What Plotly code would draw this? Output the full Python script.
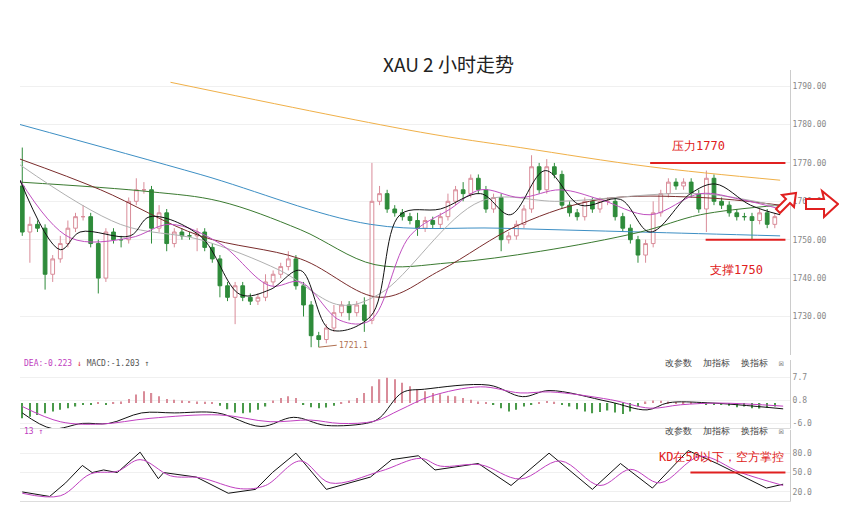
import plotly.graph_objects as go
from plotly.subplots import make_subplots

# candles (bar index 0..99)
closes = [1752, 1754, 1753, 1741, 1745, 1749, 1753, 1756, 1756, 1749,
          1740, 1752, 1750, 1750, 1760, 1763, 1763, 1753, 1757, 1749,
          1752, 1751, 1751, 1752, 1748, 1745, 1738, 1735, 1738, 1735,
          1734, 1735, 1739, 1741, 1743, 1745, 1738, 1733, 1725, 1724,
          1727, 1731, 1733, 1731, 1733, 1729, 1760, 1762, 1758, 1757,
          1756, 1755, 1753, 1755, 1754, 1756, 1760, 1763, 1762, 1766,
          1763, 1758, 1761, 1750, 1751, 1754, 1758, 1769, 1763, 1769,
          1767, 1759, 1757, 1756, 1760, 1758, 1760, 1760, 1756, 1753,
          1750, 1746, 1749, 1757, 1762, 1765, 1764, 1765, 1762, 1758,
          1766, 1760, 1759, 1757, 1756, 1756, 1755, 1757, 1754, 1756]
first_open = 1764
up_wick = [10, 2, 1, 1, 1, 2, 2, 1, 3, 1, 1, 1, 1, 1, 1, 3, 2, 1, 2, 1,
           1, 1, 1, 1, 1, 1, 1, 1, 1, 1, 1, 1, 2, 1, 1, 2, 1, 1, 1, 1,
           1, 2, 1, 1, 1, 2, 10, 2, 1, 1, 1, 1, 2, 1, 1, 1, 2, 1, 2, 1,
           1, 1, 1, 1, 1, 1, 1, 3, 1, 2, 1, 1, 1, 1, 1, 1, 1, 1, 1, 1,
           1, 1, 1, 3, 1, 1, 1, 1, 1, 1, 2, 1, 1, 1, 1, 1, 1, 1, 1, 1]
dn_wick = [1, 8, 1, 4, 2, 1, 1, 1, 1, 1, 4, 1, 1, 2, 1, 1, 1, 4, 1, 2,
           1, 1, 1, 4, 1, 1, 3, 1, 7, 1, 1, 1, 1, 1, 1, 1, 1, 3, 3, 2,
           1, 1, 1, 2, 1, 3, 1, 1, 1, 1, 1, 1, 2, 1, 1, 1, 1, 1, 2, 1,
           1, 1, 1, 3, 1, 1, 1, 1, 1, 1, 1, 1, 1, 1, 1, 1, 1, 1, 1, 1,
           1, 2, 2, 1, 1, 1, 1, 1, 1, 1, 6, 1, 1, 1, 1, 1, 5, 1, 1, 1]

# moving averages (x in bar index)
ma_yellow_x = [19.5, 52.4, 65.5, 82.6, 99.7]
ma_yellow_y = [1791, 1778, 1774, 1769, 1765.5]
ma_blue_x = [-0.3, 23.4, 45.8, 62.9, 81.3, 99.7]
ma_blue_y = [1780, 1767, 1754, 1753, 1752, 1751]
ma_green_x = [-0.3, 16.8, 26, 36.6, 46.4, 56.3, 68.2, 81.3, 89.2, 99.7]
ma_green_y = [1765, 1762.5, 1760, 1752.6, 1743.5, 1744, 1747, 1752, 1756.5, 1759]
ma_dred_x = [-0.3, 10.3, 23.4, 36.6, 47.1, 55, 65.5, 76, 89.2, 99.7]
ma_dred_y = [1771, 1763, 1751, 1745, 1735, 1742, 1754, 1760.5, 1761, 1759]
ma_gray_x = [-0.3, 12.9, 23.4, 33.9, 41.8, 47.1, 60.3, 70.8, 89.2, 99.7]
ma_gray_y = [1769.5, 1754, 1750, 1742, 1733, 1736, 1760, 1760, 1762, 1758.6]
ma_mag_x = [-0.3, 6.3, 14.2, 19.5, 26, 32.6, 36.6, 41.8, 45.8, 51, 56.3, 60.3,
            65.5, 70.8, 76, 82.6, 89.2, 94.5, 99.7]
ma_mag_y = [1765.5, 1750.5, 1750.5, 1754, 1749, 1738, 1739, 1729, 1729, 1751, 1758, 1763,
            1761, 1763, 1760.5, 1756.5, 1762, 1760.5, 1758]
ma_blk_x = [-0.3, 5, 7.6, 14.2, 16.8, 23.4, 28.7, 32.6, 36.6, 40.5, 45.8, 49.7,
            55, 60.3, 64.2, 68.8, 73.4, 78.7, 82.6, 87.9, 91.2, 95.8, 99.7]
ma_blk_y = [1765.5, 1747.4, 1752, 1751, 1756, 1751, 1735.7, 1737, 1742, 1726.6, 1730, 1756.5,
            1758, 1762, 1756.5, 1768, 1759, 1760.5, 1752, 1762, 1764.5, 1759, 1756.5]

# MACD
dif_x = [0, 3.9, 7.9, 11.4, 15.7, 20, 25.7, 31.4, 35.7, 40, 45.8, 47.1, 50, 52.9,
         61.4, 65.8, 69.3, 77.2, 82.2, 85, 90.1, 100.1]
dif_y = [-2.9, -7.5, -6.0, -6.0, -2.9, -2.9, -2.9, -6.9, -4.2, -6.6, -5.7, -4.2, 3.1, 4.1,
         5.3, 1.9, 3.7, 0.4, -2.0, 0.1, 0.1, -1.7]
dea_x = [0, 5, 10.3, 16.8, 26, 32.6, 37.9, 41.8, 46.4, 49.7, 53.7, 60.3, 65.5, 69.5,
         77.4, 82.6, 86.6, 91.8, 100.1]
dea_y = [-1.0, -5.5, -6.2, -4.5, -3.5, -5.5, -5.0, -6.0, -5.3, -2.0, 2.0, 4.8, 3.0, 3.3,
         1.0, -1.5, -0.5, 0.0, -0.9]
hist = [-4.5, -4.0, -3.5, -3.0, -2.5, -2.0, -1.5, -1.0, -0.5, -0.3, 0.2, -0.3, 0.3, 0.5,
        1.2, 2.5, 3.5, 3.0, 2.0, 1.2, 1.0, 0.8, 0.6, 0.5, 0.4, 0.3, -0.8, -1.8, -2.8, -3.0,
        -2.8, -2.0, -1.0, 0.8, 1.5, 2.0, 1.5, -0.5, -1.2, -1.5, -1.3, -0.8, 0.3, 0.8, 1.5,
        3.0, 5.0, 7.0, 7.5, 7.0, 6.0, 5.0, 4.0, 3.5, 3.0, 2.6, 2.2, 2.0, 1.5, 1.0,
        0.5, 0.2, -0.5, -1.5, -2.5, -2.0, -1.0, -0.3, 0.3, 0.6, 0.4, -0.3, -1.0, -1.8, -2.5,
        -3.0, -2.6, -2.2, -2.8, -3.2, -2.5, -1.0, 0.5, 0.8, 0.7, 0.5, 0.3, 0.2, 0.3, -0.2,
        -0.4, -0.6, -0.5, -0.8, -1.2, -1.0, -1.5, -1.6, -1.4, -1.0]

# KD
k_x = [0, 3.6, 5.7, 7.9, 9.2, 10.7, 12.5, 15.5, 17.9, 18.6, 22.9, 27.1, 30.7, 32.9,
       36, 40, 45.8, 48.6, 52.1, 54.3, 60, 64.3, 69.3, 75, 78.7, 82.9, 87.6, 91.4, 97.9, 100.1]
k_y = [20, 13, 34, 61, 50, 54, 50, 81.5, 40.5, 50, 43, 18, 24, 50,
       80, 24, 43, 70, 76, 54, 64, 30, 80, 24, 64, 26, 84, 64, 26, 32]
d_x = [0, 5, 9, 12.5, 15.5, 19.5, 23.4, 28.7, 32, 36.6, 40.5, 47.1, 52.4, 55, 60.3,
       65.5, 70.8, 76, 80, 83.9, 89.2, 94.5, 100.1]
d_y = [18, 14, 48, 52, 70, 45, 42, 25, 30, 68, 34, 52, 72, 60, 62,
       40, 68, 30, 55, 34, 75, 50, 30]

price_ticks = [1730, 1740, 1750, 1760, 1770, 1780, 1790]
macd_ticks = [7.7, 0.8, -6.0]
kd_ticks = [80, 50, 20]

opens = [first_open] + closes[:-1]
highs = [max(o, c) + u for o, c, u in zip(opens, closes, up_wick)]
lows = [min(o, c) - d for o, c, d in zip(opens, closes, dn_wick)]
idx = list(range(len(closes)))

fig = make_subplots(rows=3, cols=1, shared_xaxes=True, vertical_spacing=0.01)

fig.add_trace(go.Candlestick(
    x=idx, open=opens, high=highs, low=lows, close=closes,
    increasing=dict(line=dict(color="#d98c99", width=1), fillcolor="white"),
    decreasing=dict(line=dict(color="#2e8b3a", width=1), fillcolor="#2e8b3a"),
    whiskerwidth=0), row=1, col=1)

for xs, ys, col in [(ma_yellow_x, ma_yellow_y, "#f0b048"), (ma_blue_x, ma_blue_y, "#3d8fc4"),
                    (ma_green_x, ma_green_y, "#3a7a30"), (ma_dred_x, ma_dred_y, "#7a2c2c"),
                    (ma_gray_x, ma_gray_y, "#b0b0b0"), (ma_mag_x, ma_mag_y, "#c050c0"),
                    (ma_blk_x, ma_blk_y, "#111111")]:
    fig.add_trace(go.Scatter(x=xs, y=ys, mode="lines", line=dict(color=col, width=1, shape="spline")),
                  row=1, col=1)

fig.add_trace(go.Bar(x=idx, y=hist, width=0.18,
                     marker=dict(color=["#d98c99" if h > 0 else "#4a9a4a" for h in hist], line_width=0)),
              row=2, col=1)
fig.add_trace(go.Scatter(x=dif_x, y=dif_y, mode="lines", line=dict(color="#111", width=1, shape="spline")), row=2, col=1)
fig.add_trace(go.Scatter(x=dea_x, y=dea_y, mode="lines", line=dict(color="#c040c0", width=1, shape="spline")), row=2, col=1)
fig.add_trace(go.Scatter(x=k_x, y=k_y, mode="lines", line=dict(color="#111", width=1)), row=3, col=1)
fig.add_trace(go.Scatter(x=d_x, y=d_y, mode="lines", line=dict(color="#c040c0", width=1, shape="spline")), row=3, col=1)

# resistance / support lines
red = "#e02020"
fig.add_trace(go.Scatter(x=[82.6, 100.4], y=[1770, 1770], mode="lines", line=dict(color=red, width=2)), row=1, col=1)
fig.add_trace(go.Scatter(x=[89.9, 100.4], y=[1750, 1750], mode="lines", line=dict(color=red, width=2)), row=1, col=1)
fig.add_trace(go.Scatter(x=[87.9, 100.4], y=[50, 50], mode="lines", line=dict(color=red, width=2)), row=3, col=1)

fig.add_annotation(x=89, y=1774.5, text="压力1770", showarrow=False, font=dict(color=red, size=12), row=1, col=1)
fig.add_annotation(x=94, y=1742, text="支撑1750", showarrow=False, font=dict(color=red, size=12), row=1, col=1)
fig.add_annotation(x=100.5, y=74, text="KD在50以下，空方掌控", showarrow=False, xanchor="right",
                   font=dict(color=red, size=12), row=3, col=1)
fig.add_annotation(x=39, y=1722, text="1721.1", showarrow=True, arrowhead=0, ax=18, ay=-2,
                   xanchor="left", font=dict(color="#b07050", size=8), arrowcolor="#b07050", row=1, col=1)

fig.add_annotation(xref="paper", yref="paper", x=0.003, y=0.304, xanchor="left", showarrow=False,
                   text="<span style='color:#c040c0'>DEA:-0.223</span> <span style='color:#e03030'>↓</span> MACD:-1.203 ↑",
                   font=dict(size=8, color="#555"))
fig.add_annotation(xref="paper", yref="paper", x=0.003, y=0.146, xanchor="left", showarrow=False,
                   text="<span style='color:#c040c0'>13 ↑</span>", font=dict(size=8))
for yy in [0.304, 0.146]:
    fig.add_annotation(xref="paper", yref="paper", x=0.995, y=yy, xanchor="right", showarrow=False,
                       text="改参数  加指标  换指标  ☒", font=dict(size=9, color="#444"))

# arrows at right (screen pixels -> paper)
def arrow(pts):
    return "M " + " L ".join(f"{(px - 20) / 770:.4f},{(501 - py) / 431:.4f}" for px, py in pts) + " Z"

fig.add_shape(type="path", xref="paper", yref="paper", line=dict(color=red, width=2), fillcolor="white",
              path=arrow([(776, 209), (786, 199), (782, 195), (796, 193), (794, 207), (790, 203), (780, 213)]))
fig.add_shape(type="path", xref="paper", yref="paper", line=dict(color=red, width=2), fillcolor="white",
              path=arrow([(806, 199), (824, 199), (822, 191), (838, 204), (824, 217), (824, 209), (806, 209)]))

fig.update_layout(
    width=847, height=506, paper_bgcolor="white", plot_bgcolor="white", showlegend=False,
    margin=dict(l=12, r=65, t=62, b=13),
    title=dict(text="XAU 2 小时走势", x=0.52, y=0.9, xanchor="center",
               font=dict(family="Noto Sans CJK SC", size=19, color="#222")),
    font=dict(family="DejaVu Sans Mono", color="#777"),
    yaxis=dict(domain=[0.339, 1.0]),
    yaxis2=dict(domain=[0.169, 0.327]),
    yaxis3=dict(domain=[0.0, 0.165]),
)
axis_common = dict(side="right", showline=True, linecolor="#ccc", mirror=False, ticks="",
                   tickfont=dict(size=8, color="#888"), gridcolor="#f0f0f0", zeroline=False)
fig.update_yaxes(range=[1720, 1794.2], tickvals=price_ticks, ticktext=[f"{v:.2f}" for v in price_ticks],
                 row=1, col=1, **axis_common)
fig.update_yaxes(range=[-7.4, 12.7], tickvals=macd_ticks, ticktext=["7.7", "0.8", "-6.0"], row=2, col=1, **axis_common)
fig.update_yaxes(range=[6, 116], tickvals=kd_ticks, ticktext=["80.0", "50.0", "20.0"], row=3, col=1, **axis_common)
fig.update_xaxes(range=[-0.3, 101], showticklabels=False, showgrid=False, zeroline=False,
                 rangeslider_visible=False, showline=False)
fig.update_xaxes(showline=True, linecolor="#ddd", row=2, col=1)
fig.update_xaxes(showline=True, linecolor="#ddd", row=3, col=1)

fig.write_html("out.html")
